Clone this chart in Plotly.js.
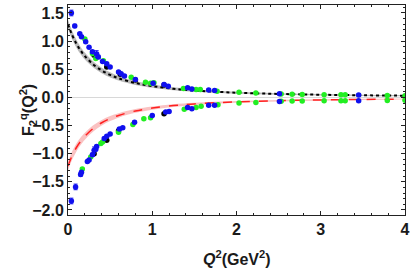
<!DOCTYPE html>
<html><head><meta charset="utf-8">
<script src="https://cdn.plot.ly/plotly-3.0.1.min.js"></script>
<style>html,body{margin:0;padding:0;background:#fff}#plot{width:415px;height:268px}</style>
</head><body><div id="plot"></div>
<script>
// Theory curves
const curveQ2 = [0,0.05,0.1,0.15,0.2,0.3,0.4,0.5,0.6,0.8,1.0,1.25,1.5,2.0,2.5,3.0,3.5,4.0];
const upperCurve = [1.30,1.105,0.953,0.832,0.734,0.585,0.479,0.400,0.340,0.256,0.201,0.154,0.123,0.084,0.062,0.048,0.038,0.031];
const upperBandHalf = [0.08,0.075,0.07,0.066,0.062,0.055,0.05,0.045,0.04,0.034,0.029,0.025,0.022,0.017,0.014,0.012,0.011,0.01];
const lowerCurve = [-1.22,-1.03,-0.89,-0.78,-0.69,-0.55,-0.45,-0.375,-0.32,-0.24,-0.19,-0.145,-0.115,-0.079,-0.058,-0.045,-0.036,-0.029];
const lowerBandHalf = [0.08,0.075,0.07,0.066,0.062,0.055,0.05,0.045,0.04,0.034,0.029,0.025,0.022,0.017,0.014,0.012,0.011,0.01];

// Data points, positive branch
const blueUpQ2 = [0.04,0.08,0.14,0.16,0.21,0.25,0.29,0.34,0.36,0.41,0.46,0.50,0.60,0.63,0.67,0.80,1.01,1.14,1.19,1.42,1.47,1.67,1.74,2.51,3.45];
const blueUpF = [1.50,1.27,1.13,1.08,0.99,0.89,0.81,0.77,0.72,0.64,0.60,0.54,0.45,0.42,0.38,0.32,0.25,0.23,0.20,0.17,0.15,0.13,0.125,0.065,0.042];
const blueUpErr = [0.05,0.03,0.02,0.02,0.02,0.02,0.02,0.06,0.03,0.02,0.02,0.02,0.02,0.02,0.02,0.02,0.02,0.02,0.02,0.02,0.02,0.02,0.02,0.02,0.02];
const greenUpQ2 = [0.20,0.29,0.33,0.42,0.75,0.92,0.98,1.02,1.37,1.52,1.57,1.77,2.03,2.23,2.53,2.66,2.78,3.04,3.24,3.29,3.79,4.0];
const greenUpF = [1.04,0.78,0.69,0.65,0.36,0.27,0.25,0.26,0.16,0.14,0.14,0.11,0.09,0.077,0.06,0.055,0.053,0.048,0.048,0.047,0.032,0.03];
const blackUpQ2 = [0.31,0.46,0.62,0.80,1.14];
const blackUpF = [0.75,0.54,0.41,0.31,0.22];

// Data points, negative branch
const blueLoQ2 = [0.04,0.09,0.15,0.16,0.23,0.25,0.29,0.31,0.33,0.34,0.43,0.46,0.50,0.61,0.65,0.79,1.00,1.16,1.20,1.42,1.47,1.67,1.74,2.51,3.45];
const blueLoF = [-1.84,-1.59,-1.37,-1.33,-1.14,-1.11,-1.02,-0.94,-0.92,-0.87,-0.73,-0.69,-0.65,-0.56,-0.54,-0.44,-0.32,-0.26,-0.25,-0.18,-0.20,-0.14,-0.14,-0.071,-0.057];
const blueLoErr = [0.05,0.05,0.03,0.02,0.02,0.02,0.03,0.06,0.03,0.02,0.02,0.02,0.02,0.02,0.02,0.02,0.02,0.02,0.02,0.02,0.02,0.02,0.02,0.02,0.02];
const greenLoQ2 = [0.17,0.27,0.39,0.41,0.60,0.77,0.90,0.98,1.38,1.52,1.58,1.78,2.03,2.23,2.53,2.66,2.78,3.04,3.24,3.29,3.79,4.0];
const greenLoF = [-1.27,-1.06,-0.82,-0.79,-0.62,-0.48,-0.38,-0.36,-0.21,-0.18,-0.155,-0.13,-0.10,-0.089,-0.07,-0.065,-0.065,-0.06,-0.057,-0.057,-0.053,-0.05];
const blackLoQ2 = [0.31,0.46,0.60,1.14];
const blackLoF = [-1.0,-0.76,-0.59,-0.29];

const up = (c, h) => c.map((v, i) => v + h[i]);
const dn = (c, h) => c.map((v, i) => v - h[i]);

const MS = 5.5;
const traces = [
  {x: curveQ2, y: dn(upperCurve, upperBandHalf), mode: 'lines', line: {width: 0, shape: 'spline'}, hoverinfo: 'skip', showlegend: false},
  {x: curveQ2, y: up(upperCurve, upperBandHalf), mode: 'lines', fill: 'tonexty', fillcolor: 'rgba(130,130,130,0.55)', line: {width: 0, shape: 'spline'}, hoverinfo: 'skip', showlegend: false},
  {x: curveQ2, y: upperCurve, mode: 'lines', line: {color: '#000', width: 2, dash: 'dot', shape: 'spline'}, showlegend: false},
  {x: curveQ2, y: dn(lowerCurve, lowerBandHalf), mode: 'lines', line: {width: 0, shape: 'spline'}, hoverinfo: 'skip', showlegend: false},
  {x: curveQ2, y: up(lowerCurve, lowerBandHalf), mode: 'lines', fill: 'tonexty', fillcolor: 'rgba(245,120,120,0.45)', line: {width: 0, shape: 'spline'}, hoverinfo: 'skip', showlegend: false},
  {x: curveQ2, y: lowerCurve, mode: 'lines', line: {color: '#ff2020', width: 1.5, dash: 'dash', shape: 'spline'}, showlegend: false},
  {x: blackUpQ2, y: blackUpF, mode: 'markers', marker: {color: '#000', size: MS}, showlegend: false},
  {x: blackLoQ2, y: blackLoF, mode: 'markers', marker: {color: '#000', size: MS}, showlegend: false},
  {x: greenUpQ2, y: greenUpF, mode: 'markers', marker: {color: '#22ee22', size: MS}, showlegend: false},
  {x: greenLoQ2, y: greenLoF, mode: 'markers', marker: {color: '#22ee22', size: MS}, showlegend: false},
  {x: blueUpQ2, y: blueUpF, mode: 'markers', marker: {color: '#1010ee', size: MS},
   error_y: {type: 'data', array: blueUpErr, visible: true, color: '#1010ee', thickness: 1, width: 2}, showlegend: false},
  {x: blueLoQ2, y: blueLoF, mode: 'markers', marker: {color: '#1010ee', size: MS},
   error_y: {type: 'data', array: blueLoErr, visible: true, color: '#1010ee', thickness: 1, width: 2}, showlegend: false}
];

const tickFont = {family: 'Liberation Sans, Arial, sans-serif', size: 16, color: '#1a1a1a', weight: 'bold'};
const layout = {
  width: 415, height: 268,
  margin: {l: 68, r: 10, t: 5, b: 53},
  paper_bgcolor: '#fff', plot_bgcolor: '#fff',
  showlegend: false,
  xaxis: {
    range: [0, 4], tickvals: [0,1,2,3,4], ticktext: ['0','1','2','3','4'],
    ticks: 'inside', ticklen: 4, tickcolor: '#222', showgrid: false, zeroline: false,
    showline: true, linecolor: '#222', linewidth: 1, mirror: 'ticks',
    minor: {dtick: 0.2, ticks: 'inside', ticklen: 2, tickcolor: '#222'},
    tickfont: tickFont
  },
  yaxis: {
    range: [-2.089, 1.642], tickvals: [-2,-1.5,-1,-0.5,0,0.5,1,1.5],
    ticktext: ['\u22122.0','\u22121.5','\u22121.0','\u22120.5','0.0','0.5','1.0','1.5'],
    ticks: 'inside', ticklen: 4, tickcolor: '#222', showgrid: false,
    zeroline: true, zerolinecolor: '#d8d8d8', zerolinewidth: 1.5,
    showline: true, linecolor: '#222', linewidth: 1, mirror: 'ticks',
    minor: {dtick: 0.1, ticks: 'inside', ticklen: 2, tickcolor: '#222'},
    tickfont: tickFont
  },
  annotations: [
    {text: '<i>Q</i><sup>2</sup>(GeV<sup>2</sup>)', xref: 'paper', yref: 'paper', x: 0.5, y: 0, yshift: -43,
     xanchor: 'center', yanchor: 'middle', showarrow: false, font: tickFont},
    {text: 'F<sub>2</sub><sup>q</sup>(Q<sup>2</sup>)', xref: 'paper', yref: 'paper', x: 0, xshift: -40, y: 0.5,
     xanchor: 'center', yanchor: 'middle', textangle: -90, showarrow: false, font: tickFont}
  ]
};
Plotly.newPlot('plot', traces, layout, {staticPlot: true, displayModeBar: false});
</script></body></html>
